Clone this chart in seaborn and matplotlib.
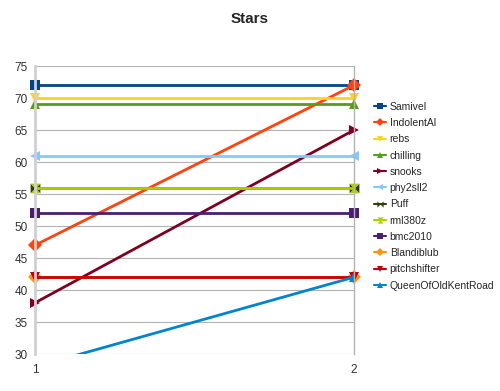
import matplotlib
matplotlib.use('Agg')
import matplotlib.pyplot as plt
from matplotlib.path import Path
import seaborn as sns
import pandas as pd

# chart data
x_values = [1, 2]
players = ['Samivel', 'IndolentAl', 'rebs', 'chilling', 'snooks', 'phy2sll2',
           'Puff', 'rml380z', 'bmc2010', 'Blandiblub', 'pitchshifter', 'QueenOfOldKentRoad']
stars_1 = [72, 47, 70, 69, 38, 61, 56, 56, 52, 42, 42, 28]
stars_2 = [72, 72, 70, 69, 65, 61, 56, 56, 52, 42, 42, 42]
colors = ['#004586', '#ff420e', '#ffd320', '#579d1c', '#7e0021', '#83caff',
          '#314004', '#aecf00', '#4b1f6f', '#ff950e', '#c5000b', '#0084d1']

bowtie_h = Path([(-1, -1), (0, 0), (-1, 1), (-1, -1), (1, -1), (0, 0), (1, 1), (1, -1)],
                [Path.MOVETO, Path.LINETO, Path.LINETO, Path.CLOSEPOLY,
                 Path.MOVETO, Path.LINETO, Path.LINETO, Path.CLOSEPOLY])
bowtie_v = Path([(-1, 1), (0, 0), (1, 1), (-1, 1), (-1, -1), (0, 0), (1, -1), (-1, -1)],
                [Path.MOVETO, Path.LINETO, Path.LINETO, Path.CLOSEPOLY,
                 Path.MOVETO, Path.LINETO, Path.LINETO, Path.CLOSEPOLY])
marker_list = ['s', 'D', 'v', '^', '>', '<', bowtie_h, bowtie_v, 's', 'D', 'v', '^']

rows = []
for name, a, b in zip(players, stars_1, stars_2):
    rows.append({'x': x_values[0], 'stars': a, 'player': name})
    rows.append({'x': x_values[1], 'stars': b, 'player': name})
df = pd.DataFrame(rows)

sns.set_style('white')
plt.rcParams['font.family'] = ['Liberation Sans', 'DejaVu Sans']

fig = plt.figure(figsize=(5, 3.91), dpi=100)
ax = fig.add_axes([0.07, 0.0946, 0.638, 0.7365])

sns.lineplot(data=df, x='x', y='stars', hue='player', style='player',
             hue_order=players, style_order=players,
             palette=dict(zip(players, colors)),
             markers=dict(zip(players, marker_list)),
             dashes=False, linewidth=2, markersize=7, markeredgewidth=0,
             ax=ax, legend=True)

for line in ax.get_lines():
    line.set_clip_on(False)
# the last series dips below the axis and is clipped
ax.get_lines()[len(players) - 1].set_clip_on(True)

ax.set_xlim(1, 2)
ax.set_ylim(30, 75)
ax.set_xticks([1, 2])
ax.set_yticks(range(30, 76, 5))
ax.yaxis.grid(True, color='#b3b3b3', linewidth=0.8)
ax.set_axisbelow(True)
for s in ['top', 'bottom']:
    ax.spines[s].set_visible(False)
ax.spines['left'].set_color('#d0d0d0')
ax.spines['left'].set_linewidth(2)
ax.spines['right'].set_color('#b3b3b3')
ax.spines['right'].set_linewidth(1)
ax.tick_params(axis='both', labelsize=8.5, colors='#333333', length=0, pad=5)
ax.tick_params(axis='x', length=4, color='#b3b3b3', direction='out', pad=3)
ax.set_xlabel('')
ax.set_ylabel('')

fig.text(0.5, 0.952, 'Stars', ha='center', va='center', fontsize=11, fontweight='bold')

leg = ax.legend(loc='upper left', bbox_to_anchor=(1.05, 0.89), frameon=False,
                fontsize=7.5, handlelength=1.1, handletextpad=0.4,
                labelspacing=0.6, borderaxespad=0)
for h in leg.legend_handles:
    h.set_markersize(4.5)
    h.set_linewidth(1.5)

fig.savefig('out.png', dpi=100)
